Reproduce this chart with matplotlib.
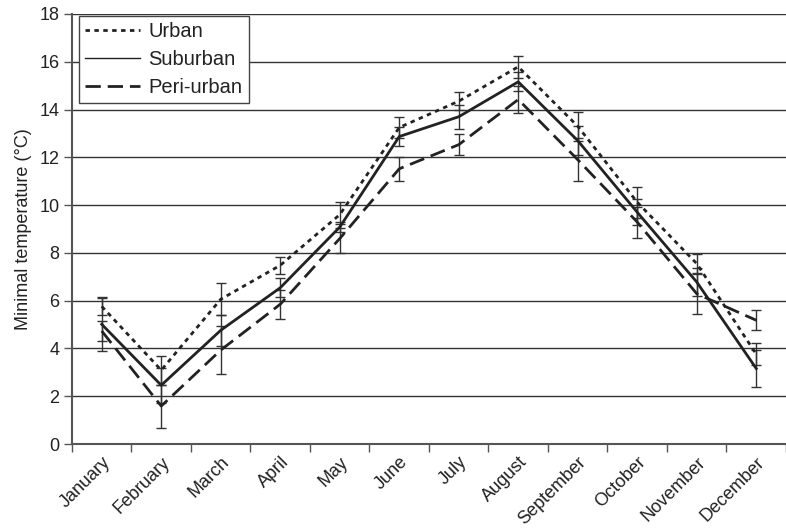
import numpy as np
from matplotlib import pyplot as plt

plt.rcParams['font.family'] = ['Liberation Sans', 'DejaVu Sans']

months = ['January', 'February', 'March', 'April', 'May', 'June', 'July',
          'August', 'September', 'October', 'November', 'December']

urban = [5.76, 3.09, 6.06, 7.48, 9.6, 13.25, 14.35, 15.79, 13.3, 10.12, 7.55, 3.76]
suburban = [5.01, 2.46, 4.76, 6.54, 9.08, 12.87, 13.70, 15.16, 12.7, 9.70, 6.78, 3.16]
periurban = [4.73, 1.59, 3.93, 5.85, 8.6, 11.52, 12.53, 14.42, 11.9, 9.29, 6.29, 5.18]

urban_err = [0.37, 0.6, 0.67, 0.35, 0.55, 0.45, 0.37, 0.47, 0.6, 0.65, 0.42, 0.45]
suburban_err = [1.13, 0.73, 0.65, 0.4, 0.2, 0.4, 0.5, 0.4, 0.6, 0.55, 0.6, 0.77]
periurban_err = [0.4, 0.9, 1.0, 0.6, 0.6, 0.5, 0.45, 0.55, 0.9, 0.65, 0.85, 0.42]

ink = '#222222'
x = np.arange(len(months)) + 0.5

fig = plt.figure(figsize=(7.86, 5.32), dpi=100)
ax = fig.add_axes([0.0916, 0.1654, 0.9084, 0.8083])

series = [
    ('Urban', urban, urban_err, (0, (1.6, 1.6)), 2.0),
    ('Suburban', suburban, suburban_err, '-', 2.0),
    ('Peri-urban', periurban, periurban_err, (0, (5.5, 2.5)), 2.0),
]

handles = []
for name, vals, err, ls, lw in series:
    ax.errorbar(x, vals, yerr=err, fmt='none', ecolor='#333333',
                elinewidth=1.0, capsize=3.5, capthick=1.0, zorder=3)
    ax.plot(x, vals, color=ink, linestyle=ls, linewidth=lw, zorder=4)
    # legend shows thinner solid line, as in the original
    h, = ax.plot([], [], color=ink, linestyle=ls,
                 linewidth=1.0 if ls == '-' else 2.0, label=name)
    handles.append(h)

ax.set_xlim(0, 12)
ax.set_ylim(0, 18)
ax.set_yticks(np.arange(0, 19, 2))
ax.yaxis.grid(True, color='#333333', linewidth=1.0)
ax.set_axisbelow(True)

ax.set_xticks(x)
ax.set_xticklabels(months, rotation=45, ha='right', va='top',
                   rotation_mode='anchor', fontsize=13, color=ink)
ax.tick_params(axis='x', which='major', length=0, pad=7)
ax.set_xticks(np.arange(0, 13), minor=True)
ax.tick_params(axis='x', which='minor', length=6, width=1.0, color='#555555')
ax.tick_params(axis='y', length=6, width=1.0, color='#555555',
               labelsize=13, labelcolor=ink, pad=3)

ax.set_ylabel('Minimal temperature (°C)', fontsize=13, color=ink, labelpad=5)

for side in ['top', 'right']:
    ax.spines[side].set_visible(False)
ax.spines['left'].set_color('#555555')
ax.spines['left'].set_linewidth(1.5)
ax.spines['bottom'].set_color('#555555')
ax.spines['bottom'].set_linewidth(1.5)

leg = ax.legend(handles=handles, loc='upper left', fontsize=14.5,
                frameon=True, fancybox=False, framealpha=1,
                edgecolor='#444444', handlelength=2.75, handletextpad=0.4,
                borderpad=0.3, labelspacing=0.45, borderaxespad=0,
                bbox_to_anchor=(0.0098, 0.995))
leg.get_frame().set_linewidth(1.0)
for t in leg.get_texts():
    t.set_color(ink)

fig.savefig('out.png', dpi=100)
